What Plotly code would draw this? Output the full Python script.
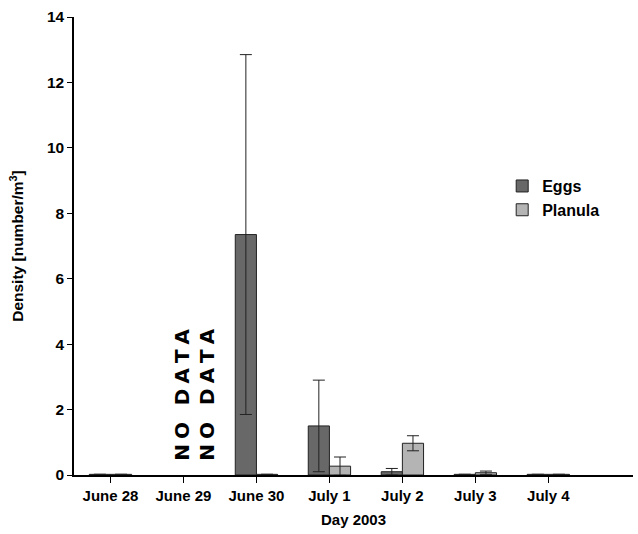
import plotly.graph_objects as go

days = ["June 28", "June 29", "June 30", "July 1", "July 2", "July 3", "July 4"]
eggs = [0.02, None, 7.35, 1.5, 0.1, 0.02, 0.02]
eggs_err = [0, 0, 5.5, 1.4, 0.1, 0, 0]
planula = [0.02, None, 0.02, 0.27, 0.97, 0.07, 0.02]
planula_err = [0, 0, 0, 0.28, 0.23, 0.05, 0]
y_ticks = [0, 2, 4, 6, 8, 10, 12, 14]
no_data_label = "NO DATA"

font = dict(family="Liberation Sans, Arial, sans-serif", size=15, color="black")

fig = go.Figure()
fig.add_trace(go.Bar(
    x=list(range(len(days))), y=eggs, name="<b>Eggs</b>",
    marker=dict(color="#686868", line=dict(color="#222222", width=1)),
    error_y=dict(type="data", array=eggs_err, visible=True, color="#222222", thickness=1, width=6),
))
fig.add_trace(go.Bar(
    x=list(range(len(days))), y=planula, name="<b>Planula</b>",
    marker=dict(color="#b4b4b4", line=dict(color="#222222", width=1)),
    error_y=dict(type="data", array=planula_err, visible=True, color="#222222", thickness=1, width=6),
))

spaced = "\u2005".join(no_data_label)
for xpos in [0.98, 1.32]:
    fig.add_annotation(x=xpos, y=2.45, text="<b>%s</b>" % spaced, textangle=-90, showarrow=False,
                       font=dict(family="DejaVu Sans, Verdana, sans-serif", size=20, color="black"))

fig.update_layout(
    width=638, height=534,
    margin=dict(l=74, r=5, t=17, b=59),
    paper_bgcolor="white", plot_bgcolor="white",
    barmode="group", bargap=0.42, bargroupgap=0,
    font=font,
    showlegend=True,
    legend=dict(x=0.766, y=0.668, xanchor="left", yanchor="top", bgcolor="rgba(0,0,0,0)",
                font=dict(family="Liberation Sans, Arial, sans-serif", size=16, color="black"),
                itemwidth=30, tracegroupgap=4),
)
fig.update_xaxes(
    tickmode="array", tickvals=list(range(len(days))), ticktext=["<b>%s</b>" % d for d in days],
    range=[-0.5, 7.16], showline=True, linecolor="black", linewidth=1.5,
    ticks="outside", ticklen=6, tickcolor="black", showgrid=False, zeroline=False,
    tickson="boundaries", tickfont=dict(size=15),
    title=dict(text="<b>Day 2003</b>", font=dict(size=15), standoff=12),
)
fig.update_yaxes(
    range=[0, 14], tickmode="array", tickvals=y_ticks, ticktext=["<b>%d</b>" % v for v in y_ticks],
    showline=True, linecolor="black", linewidth=1.5, ticks="outside", ticklen=5, tickcolor="black",
    showgrid=False, zeroline=False, tickfont=dict(size=15.5),
    title=dict(text="<b>Density [number/m<sup>3</sup>]</b>", font=dict(size=15.5), standoff=19),
)
fig.write_html("out.html")
